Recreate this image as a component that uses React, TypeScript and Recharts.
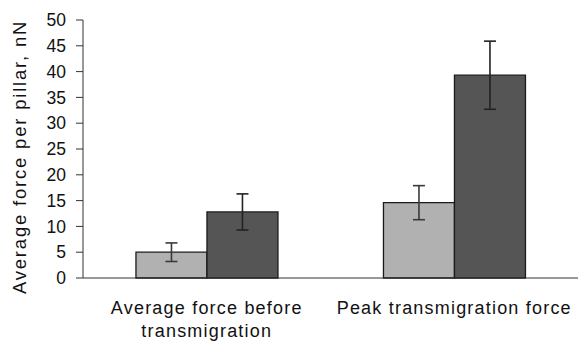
import { BarChart, Bar, XAxis, YAxis, ErrorBar } from 'recharts'

const CATEGORIES = ['Average force before\ntransmigration', 'Peak transmigration force']
const LIGHT_VALUES = [5.0, 14.6]
const LIGHT_ERRORS = [1.8, 3.3]
const DARK_VALUES = [12.8, 39.3]
const DARK_ERRORS = [3.5, 6.6]
const Y_TICKS = [0, 5, 10, 15, 20, 25, 30, 35, 40, 45, 50]
const CATEGORY_EDGES = [0, 1, 2]
const Y_LABEL = 'Average force per pillar, nN'

const FONT = '"Liberation Sans", Arial, sans-serif'
const AXIS_COLOR = '#333333'

const data = CATEGORIES.map((name, i) => ({
  name,
  light: LIGHT_VALUES[i],
  lightErr: LIGHT_ERRORS[i],
  dark: DARK_VALUES[i],
  darkErr: DARK_ERRORS[i],
}))

const CategoryTick = ({ x, y, payload }: any) => {
  const lines = String(payload.value).split('\n')
  return (
    <text
      x={x}
      y={y}
      textAnchor="middle"
      fontFamily={FONT}
      fontSize={18}
      letterSpacing={1.2}
      fill="#111"
    >
      {lines.map((line, i) => (
        <tspan key={i} x={x} dy={i === 0 ? 36 : 23}>
          {line}
        </tspan>
      ))}
    </text>
  )
}

const YTitle = ({ viewBox }: any) => {
  const cx = 26
  const cy = viewBox.y + viewBox.height / 2 + 8
  return (
    <text
      x={cx}
      y={cy}
      transform={`rotate(-90, ${cx}, ${cy})`}
      textAnchor="middle"
      fontFamily={FONT}
      fontSize={18.5}
      letterSpacing={1.8}
      fill="#111"
    >
      {Y_LABEL}
    </text>
  )
}

export default function App() {
  return (
    <div style={{ position: 'fixed', left: 0, top: 0, background: '#fff' }}>
      <BarChart
        width={578}
        height={346}
        data={data}
        margin={{ top: 20, right: 0, bottom: 0, left: 0 }}
        barGap={0}
        barCategoryGap="21.4%"
      >
        <XAxis
          dataKey="name"
          height={68}
          axisLine={{ stroke: AXIS_COLOR }}
          tickLine={false}
          tickSize={0}
          tickMargin={0}
          interval={0}
          tick={<CategoryTick />}
        />
        {/* tick marks between categories, Excel style */}
        <XAxis
          xAxisId="edges"
          type="number"
          domain={[0, 2]}
          ticks={CATEGORY_EDGES}
          height={0}
          axisLine={false}
          tick={false}
          tickSize={7}
          tickLine={{ stroke: AXIS_COLOR }}
        />
        <YAxis
          width={83}
          domain={[0, 50]}
          ticks={Y_TICKS}
          interval={0}
          axisLine={{ stroke: AXIS_COLOR }}
          tickLine={{ stroke: AXIS_COLOR }}
          tickSize={7}
          tickMargin={10}
          tick={{ fontFamily: FONT, fontSize: 17.5, fill: '#111' }}
          label={<YTitle />}
        />
        <Bar dataKey="light" fill="#b1b1b1" stroke="#1a1a1a" strokeWidth={1.3} isAnimationActive={false}>
          <ErrorBar dataKey="lightErr" width={6} stroke="#3a3a3a" strokeWidth={1.6} direction="y" />
        </Bar>
        <Bar dataKey="dark" fill="#555555" stroke="#1a1a1a" strokeWidth={1.3} isAnimationActive={false}>
          <ErrorBar dataKey="darkErr" width={6} stroke="#222222" strokeWidth={1.6} direction="y" />
        </Bar>
      </BarChart>
    </div>
  )
}
